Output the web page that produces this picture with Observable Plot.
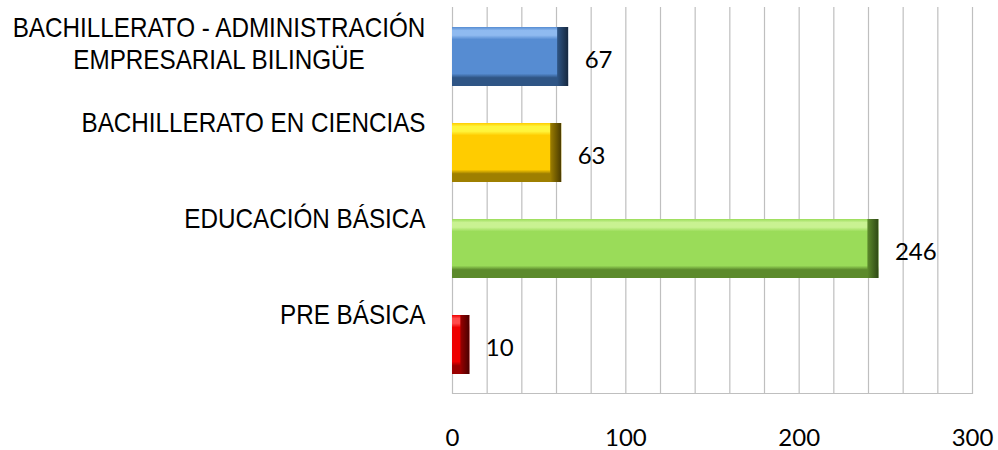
<!DOCTYPE html>
<html>
<head>
<meta charset="utf-8">
<script src="https://cdn.jsdelivr.net/npm/d3@7"></script>
<script src="https://cdn.jsdelivr.net/npm/@observablehq/plot@0.6"></script>
<style>
  html, body { margin: 0; padding: 0; background: #ffffff; }
  #chart svg { display: block; }
</style>
</head>
<body>
<div id="chart"></div>
<script>
// ---- data ----
const categories = [
  "BACHILLERATO - ADMINISTRACIÓN\nEMPRESARIAL BILINGÜE",
  "BACHILLERATO EN CIENCIAS",
  "EDUCACIÓN BÁSICA",
  "PRE BÁSICA"
];
const values = [67, 63, 246, 10];
const xTicks = [0, 100, 200, 300];
const gridTicks = [0, 20, 40, 60, 80, 100, 120, 140, 160, 180, 200, 220, 240, 260, 280, 300];

// ---- styles (bevel colours per bar) ----
const baseColors  = ["#568CD2", "#FFCC00", "#9ADC59", "#EE0000"];
const lightColors = ["#8FBAF0", "#FFF53C", "#C9F292", "#FF4A4A"];
const darkColors  = ["#2F5585", "#9E7F00", "#5C8A2C", "#9A0000"];
const edgeColors  = ["#16283F", "#4A3B00", "#2E4815", "#4A0000"];

const data = categories.map((c, i) => ({category: c, value: values[i], i}));

const labelFont = "'Liberation Sans Narrow', 'Liberation Sans', Arial, sans-serif";
const numFont = "Lato, 'Open Sans', Calibri, sans-serif";

const barMarks = [];
data.forEach(d => {
  barMarks.push(Plot.barX([d], {
    x1: 0, x2: "value", y: "category",
    fill: `url(#vgrad${d.i})`
  }));
  barMarks.push(Plot.barX([d], {
    x1: "value", x2: "value", y: "category",
    insetLeft: -Math.min(11, d.value * 0.9),
    fill: `url(#hgrad${d.i})`
  }));
});

const chart = Plot.plot({
  width: 998,
  height: 450,
  marginLeft: 452,
  marginRight: 26,
  marginTop: 7,
  marginBottom: 57,
  style: {background: "#ffffff", color: "#000000"},
  x: {domain: [0, 300]},
  y: {domain: categories, paddingInner: 0.39, paddingOuter: 0.195},
  marks: [
    Plot.gridX(gridTicks, {stroke: "#BFBFBF", strokeOpacity: 1, strokeWidth: 1.2}),
    Plot.frame({anchor: "bottom", stroke: "#BFBFBF", strokeWidth: 1.2}),
    ...barMarks,
    Plot.text(data, {
      x: "value", y: "category", text: d => String(d.value),
      dx: 16, dy: 3, textAnchor: "start",
      fontSize: 24, fontFamily: numFont, fill: "#000000"
    }),
    Plot.axisX(xTicks, {
      tickSize: 0, tickPadding: 35, fontSize: 24, fontFamily: numFont,
      fill: "#000000", label: null
    }),
    Plot.axisY([categories[0]], {
      tickSize: 0, tickPadding: 233.5, textAnchor: "middle", dy: -14,
      fontSize: 28, lineHeight: 1.14,
      fontFamily: labelFont, fill: "#000000", label: null
    }),
    Plot.axisY(categories.slice(1), {
      tickSize: 0, tickPadding: 27, dy: -30, fontSize: 28,
      fontFamily: labelFont, fill: "#000000", label: null
    })
  ]
});

// condense the category labels horizontally (narrow face is not installed)
chart.querySelectorAll('g[aria-label="y-axis tick label"] text').forEach(t => {
  const tr = t.getAttribute("transform") || "";
  t.setAttribute("transform", tr + " scale(0.866,1)");
});

// gradient definitions for bevelled bars
const defs = d3.select(chart).insert("defs", ":first-child");
data.forEach(d => {
  const v = defs.append("linearGradient")
    .attr("id", `vgrad${d.i}`).attr("x1", 0).attr("y1", 0).attr("x2", 0).attr("y2", 1);
  [[0, baseColors[d.i]], [0.06, lightColors[d.i]], [0.14, lightColors[d.i]], [0.21, baseColors[d.i]],
   [0.79, baseColors[d.i]], [0.86, darkColors[d.i]], [1, darkColors[d.i]]]
    .forEach(([o, c]) => v.append("stop").attr("offset", o).attr("stop-color", c));
  const h = defs.append("linearGradient")
    .attr("id", `hgrad${d.i}`).attr("x1", 0).attr("y1", 0).attr("x2", 1).attr("y2", 0);
  [[0, darkColors[d.i]], [1, edgeColors[d.i]]]
    .forEach(([o, c]) => h.append("stop").attr("offset", o).attr("stop-color", c));
});

document.getElementById("chart").appendChild(chart);
</script>
</body>
</html>
